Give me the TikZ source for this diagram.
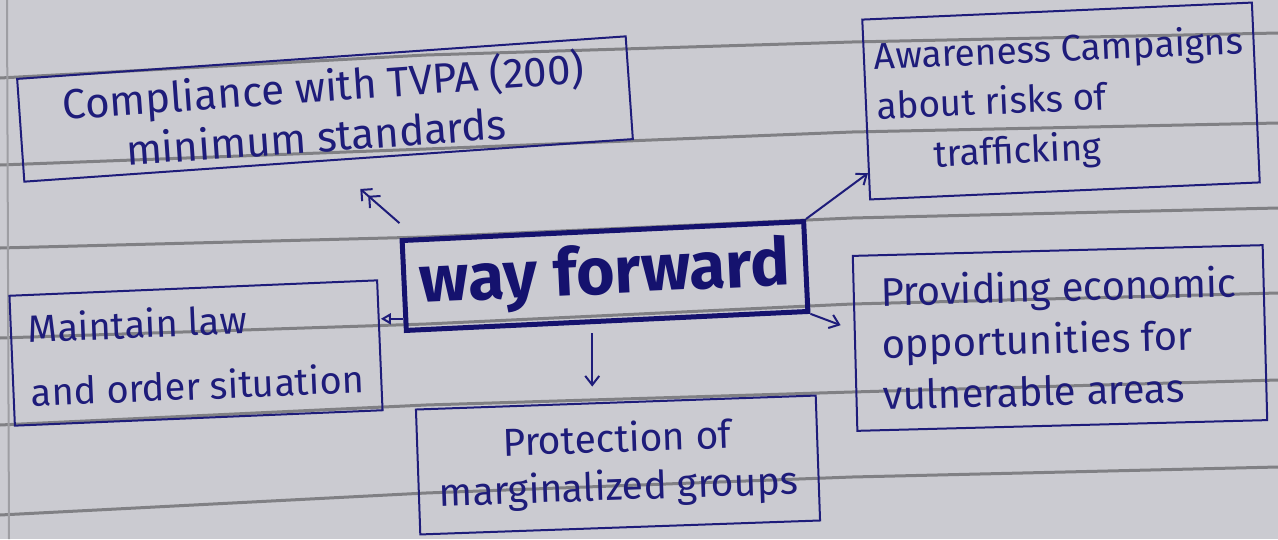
\documentclass[tikz,border=0pt]{standalone}
\usepackage{fontspec}
\setmainfont{Fira Sans}
\usetikzlibrary{arrows.meta,calc}
\definecolor{paper}{HTML}{CBCBD1}
\definecolor{ruling}{HTML}{808084}
\definecolor{ink}{HTML}{1E1C7A}
\definecolor{inkdark}{HTML}{15126E}
\begin{document}
\begin{tikzpicture}[x=1pt,y=-1pt,
  box/.style={draw=ink, line width=2pt, inner sep=0pt, text=ink, align=left},
  conn/.style={draw=ink, line width=2pt, -{Straight Barb[length=9pt,width=14pt]}},
  conndouble/.style={draw=ink, line width=2pt, -{Straight Barb[length=8pt,width=16pt] Straight Barb[length=8pt,width=16pt]}},
  connopen/.style={draw=ink, line width=2pt, -{Triangle[open,length=10pt,width=11pt]}},
  ruleline/.style={draw=ruling, line width=3pt}
]
\useasboundingbox (0,0) rectangle (1278,539);
\fill[paper] (0,0) rectangle (1278,539);
% ruled paper
\foreach \a/\b/\c/\d in {78/55/42/33, 165/149/132/123, 248/237/218/208, 338/324/304/293, 425/405/392/380, 515/493/477/467}
  \draw[ruleline] (0,\a) -- (426,\b) -- (852,\c) -- (1278,\d);
\draw[ruling!60!paper, line width=2pt] (7,0) -- (9,539);

% boxes
\node[box, rotate=4, minimum width=610pt, minimum height=103pt,
      font=\fontsize{42}{50}\selectfont] (comp) at (325,109)
  {Compliance with TVPA (200)\\\hspace*{60pt}minimum standards};
\node[box, rotate=2.5, minimum width=390pt, minimum height=180pt,
      font=\fontsize{37}{50}\selectfont] (aw) at (1061,101)
  {Awareness Campaigns\\about risks of\\\hspace*{55pt}trafficking};
\node[box, draw=inkdark, text=inkdark, line width=5pt, rotate=2.7, minimum width=402pt, minimum height=90pt,
      font=\fontsize{66}{66}\bfseries] (wf) at (605,276) {way forward};
\node[box, rotate=2.4, minimum width=368pt, minimum height=130pt,
      font=\fontsize{38}{64}\selectfont] (ml) at (196,353)
  {Maintain law\\and order situation};
\node[box, align=center, rotate=2, minimum width=400pt, minimum height=125pt,
      font=\fontsize{39}{48}\selectfont] (prot) at (618,465)
  {Protection of\\marginalized groups};
\node[box, rotate=1.5, minimum width=410pt, minimum height=175pt,
      font=\fontsize{40}{52}\selectfont] (pe) at (1060,338)
  {Providing economic\\opportunities for\\vulnerable areas};

% connectors
\coordinate (mlfrom) at ($(wf.south west)!0.15!(wf.north west)$);
\draw[conndouble, shorten >=42pt] ([yshift=15pt]wf.north west) -- (comp.south);
\draw[conn] (wf.north east) -- ($(aw.south west)!0.3!(aw.west)$);
\draw[connopen] (mlfrom) -- (mlfrom -| ml.east);
\draw[conn, shorten <=10pt, shorten >=15pt] ([xshift=-15pt]wf.south) -- ([xshift=-15pt]wf.south |- prot.north);
\draw[conn, shorten >=14pt] (wf.south east) -- ($(pe.west)!0.15!(pe.north west)$);
\end{tikzpicture}
\end{document}
